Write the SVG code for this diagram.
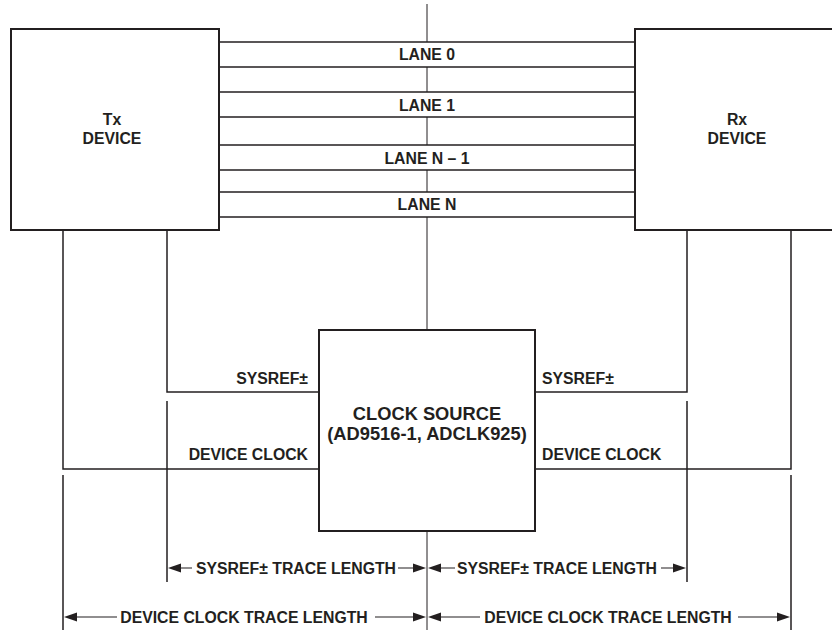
<svg xmlns="http://www.w3.org/2000/svg" width="832" height="630" viewBox="0 0 832 630">
<style>
.box{fill:#fff;stroke:#231f20;stroke-width:2}
.ln{fill:none;stroke:#231f20;stroke-width:1.5}
.thin{fill:none;stroke:#231f20;stroke-width:1}
.dim{fill:none;stroke:#231f20;stroke-width:1.2}
.ah{fill:#231f20;stroke:none}
text{font-family:"Liberation Sans",Arial,sans-serif;font-weight:bold;fill:#231f20;font-size:15.8px}
.c{text-anchor:middle}
.e{text-anchor:end}
.big{font-size:18.3px}
</style>
<defs>
<path id="al" class="ah" d="M0,0 L13,-4.5 L13,4.5 z"/>
<path id="ar" class="ah" d="M0,0 L-13,-4.5 L-13,4.5 z"/>
</defs>
<rect width="832" height="630" fill="#fff"/>
<g id="connectors">
<g id="lanes">
<path class="ln" d="M219,42H635M219,67H635M219,92H635M219,117H635M219,145H635M219,170H635M219,192H635M219,217H635"/>
</g>
<path id="center-line" class="thin" d="M427,4V42M427,67V92M427,117V145M427,170V192M427,217V330M427,531V630"/>
<path id="tx-sysref" class="ln" d="M167,230V392H319"/>
<path id="tx-devclk" class="ln" d="M63,230V469H319"/>
<path id="rx-sysref" class="ln" d="M687,230V392H535"/>
<path id="rx-devclk" class="ln" d="M791,230V469H535"/>
</g>
<g id="tx-device">
<rect class="box" x="11" y="29" width="208" height="201"/>
<text class="c" x="112" y="125">Tx</text>
<text class="c" x="112" y="144">DEVICE</text>
</g>
<g id="rx-device">
<rect class="box" x="635" y="29" width="210" height="201"/>
<text class="c" x="737" y="125">Rx</text>
<text class="c" x="737" y="144">DEVICE</text>
</g>
<g id="clock-source">
<rect class="box" x="319" y="330" width="216" height="201"/>
<text class="c big" x="427" y="420">CLOCK SOURCE</text>
<text class="c big" x="427" y="440">(AD9516-1, ADCLK925)</text>
</g>
<g id="lane-labels">
<text class="c" x="427" y="60">LANE 0</text>
<text class="c" x="427" y="111">LANE 1</text>
<text class="c" x="427" y="164">LANE N – 1</text>
<text class="c" x="427" y="210">LANE N</text>
</g>
<g id="signal-labels">
<text class="e" x="308" y="384">SYSREF±</text>
<text class="e" x="308" y="460">DEVICE CLOCK</text>
<text x="542" y="384">SYSREF±</text>
<text x="542" y="460">DEVICE CLOCK</text>
</g>
<g id="dimensions">
<path class="ln" d="M63,475V630M167,401V582M687,401V582M791,475V630"/>
<path class="dim" d="M192,568H175M398,568H418M455,568H436M661,568H678M117,617H72M375,617H418M480,617H436M738,617H782"/>
<use href="#al" x="168" y="568"/>
<use href="#ar" x="426" y="568"/>
<use href="#al" x="428" y="568"/>
<use href="#ar" x="686" y="568"/>
<use href="#al" x="64" y="617"/>
<use href="#ar" x="426" y="617"/>
<use href="#al" x="428" y="617"/>
<use href="#ar" x="790" y="617"/>
<text class="c" x="296" y="574">SYSREF± TRACE LENGTH</text>
<text class="c" x="557" y="574">SYSREF± TRACE LENGTH</text>
<text class="c" x="244" y="623">DEVICE CLOCK TRACE LENGTH</text>
<text class="c" x="608" y="623">DEVICE CLOCK TRACE LENGTH</text>
</g>
</svg>
